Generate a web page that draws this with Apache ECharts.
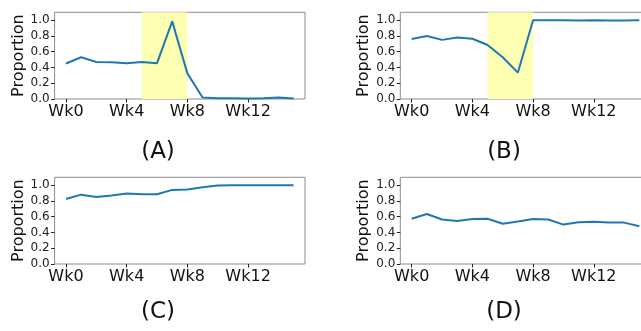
<!DOCTYPE html>
<html>
<head>
<meta charset="utf-8">
<script src="https://cdn.jsdelivr.net/npm/echarts@6/dist/echarts.min.js"></script>
<style>
  html, body { margin: 0; padding: 0; background: #fff; }
  #chart { width: 641px; height: 331px; }
</style>
</head>
<body>
<div id="chart"></div>
<script>
var weeks = [0, 1, 2, 3, 4, 5, 6, 7, 8, 9, 10, 11, 12, 13, 14, 15];
var seriesA = [0.45, 0.53, 0.47, 0.465, 0.455, 0.47, 0.455, 0.985, 0.325, 0.02, 0.01, 0.01, 0.005, 0.008, 0.02, 0.005];
var seriesB = [0.76, 0.80, 0.75, 0.78, 0.765, 0.685, 0.53, 0.335, 1.0, 1.0, 0.998, 0.995, 0.998, 0.995, 0.995, 1.0];
var seriesC = [0.825, 0.88, 0.85, 0.87, 0.895, 0.885, 0.885, 0.94, 0.945, 0.975, 0.995, 1.0, 1.0, 1.0, 1.0, 1.0];
var seriesD = [0.575, 0.635, 0.565, 0.545, 0.57, 0.575, 0.51, 0.54, 0.57, 0.565, 0.50, 0.53, 0.535, 0.525, 0.525, 0.48];
var xTicks = [0, 4, 8, 12];
var yTicks = [0, 0.2, 0.4, 0.6, 0.8, 1.0];
var panelLabels = ['(A)', '(B)', '(C)', '(D)'];
var shadeAB = [5, 8]; // highlighted weeks in A and B

var font = 'DejaVu Sans';
var chart = echarts.init(document.getElementById('chart'));

function pairs(vals) {
    return weeks.map(function(w, i) { return [w, vals[i]]; });
}

var grids = [
    { left: 54.6, top: 12.3 },
    { left: 400.3, top: 12.3 },
    { left: 54.6, top: 177.3 },
    { left: 400.3, top: 177.3 }
];
var labelPos = [[158, 152], [504, 152], [158, 312], [504, 312]];
var allSeries = [seriesA, seriesB, seriesC, seriesD];

var option = {
    animation: false,
    grid: grids.map(function(g) {
        return {
            left: g.left,
            top: g.top,
            width: 250.4,
            height: 86.7,
            show: true,
            borderColor: '#8c8c8c',
            borderWidth: 1,
            backgroundColor: 'transparent',
            containLabel: false,
            outerBoundsMode: 'none'
        };
    }),
    xAxis: grids.map(function(g, i) {
        return {
            type: 'value',
            gridIndex: i,
            min: -0.75,
            max: 15.75,
            axisLine: { show: false, onZero: false },
            splitLine: { show: false },
            axisTick: {
                show: true,
                length: 3.5,
                customValues: xTicks,
                lineStyle: { color: '#222', width: 1 }
            },
            axisLabel: {
                customValues: xTicks,
                margin: 5,
                fontFamily: font,
                fontSize: 16,
                color: '#111',
                formatter: function(v) { return 'Wk' + v; }
            }
        };
    }),
    yAxis: grids.map(function(g, i) {
        return {
            type: 'value',
            gridIndex: i,
            min: 0,
            max: 1.1,
            name: 'Proportion',
            nameLocation: 'middle',
            nameGap: 26,
            nameTextStyle: { fontFamily: font, fontSize: 16, color: '#111' },
            axisLine: { show: false, onZero: false },
            splitLine: { show: false },
            axisTick: {
                show: true,
                length: 3.5,
                customValues: yTicks,
                lineStyle: { color: '#222', width: 1 }
            },
            axisLabel: {
                customValues: yTicks,
                margin: 5,
                fontFamily: font,
                fontSize: 12,
                color: '#222',
                formatter: function(v) { return v.toFixed(1); }
            }
        };
    }),
    series: allSeries.map(function(vals, i) {
        var s = {
            type: 'line',
            xAxisIndex: i,
            yAxisIndex: i,
            data: pairs(vals),
            showSymbol: false,
            symbol: 'none',
            lineStyle: { color: '#1f77b4', width: 2 },
            color: '#1f77b4',
            silent: true
        };
        if (i < 2) {
            s.markArea = {
                silent: true,
                itemStyle: { color: '#ffffb3' },
                label: { show: false },
                data: [[{ xAxis: shadeAB[0] }, { xAxis: shadeAB[1] }]]
            };
        }
        return s;
    }),
    graphic: panelLabels.map(function(t, i) {
        return {
            type: 'text',
            x: labelPos[i][0],
            y: labelPos[i][1],
            style: {
                text: t,
                font: '23px "DejaVu Sans"',
                fill: '#111',
                textAlign: 'center',
                textVerticalAlign: 'middle',
                align: 'center',
                verticalAlign: 'middle'
            }
        };
    })
};

chart.setOption(option);
</script>
</body>
</html>
